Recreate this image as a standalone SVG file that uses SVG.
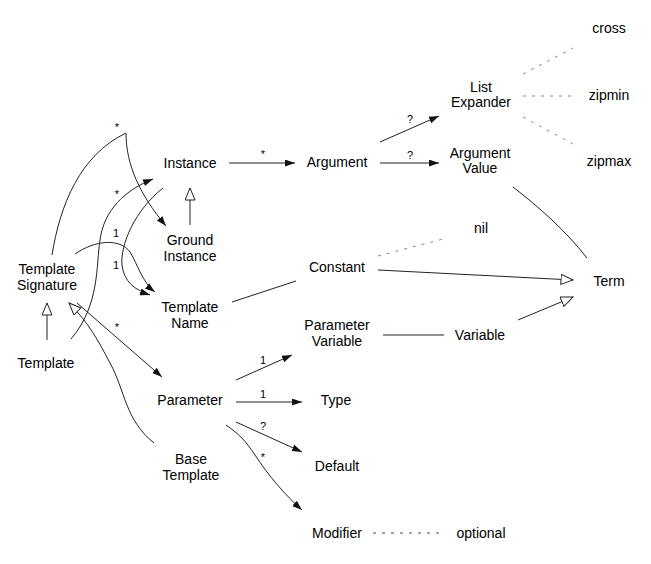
<svg xmlns="http://www.w3.org/2000/svg" width="651" height="564" viewBox="0 0 651 564">
<style>
text{font-family:"Liberation Sans",Arial,sans-serif;font-size:14px;fill:#000;text-anchor:middle}
text.l{font-size:11px}
.e{fill:none;stroke:#222;stroke-width:1}
.a{marker-end:url(#arr)}
.h{marker-end:url(#tri)}
.d{fill:none;stroke:#888;stroke-width:1;stroke-dasharray:3 6}
.dk{fill:none;stroke:#444;stroke-width:1;stroke-dasharray:3 6}
</style>
<defs>
<marker id="arr" markerUnits="userSpaceOnUse" markerWidth="12" markerHeight="8" refX="10" refY="3.5" orient="auto"><path d="M0,0 L10,3.5 L0,7 z" fill="#111"/></marker>
<marker id="tri" markerUnits="userSpaceOnUse" markerWidth="14" markerHeight="12" refX="12.5" refY="5.5" orient="auto"><path d="M0.5,0.5 L12.5,5.5 L0.5,10.5 z" fill="#fff" stroke="#222"/></marker>
</defs>
<g id="connectors">
<path class="e a" d="M52,255 C60,205 80,155 126,133 C126,165 140,195 166,226"/>
<path class="e a" d="M71,339 C100,305 96,265 100,240 C104,210 125,190 153,179"/>
<path class="e a" d="M75,254 C95,240 120,238 130,252 C138,265 142,282 155,292"/>
<path class="e a" d="M163,188 C135,210 120,245 122,265 C124,282 135,290 150,295"/>
<path class="e h" d="M154,443 C125,420 125,390 110,363 C98,340 88,322 69,303"/>
<path class="e a" d="M77,303 L162,377"/>
<path class="e h" d="M47,340 L47,303"/>
<path class="e h" d="M190,225 L190,188"/>
<path class="e a" d="M229,163 L295,163"/>
<path class="e a" d="M380,142 L439,116"/>
<path class="e a" d="M380,163 L439,163"/>
<path class="d" d="M523,74 L573,48"/>
<path class="d" d="M523,96 L572,96"/>
<path class="d" d="M523,117 L573,144"/>
<path class="e" d="M513,187 C540,208 565,230 587,258"/>
<path class="d" d="M378,256 L443,239"/>
<path class="e h" d="M378,270 L573,280"/>
<path class="e" d="M232,302 L296,281"/>
<path class="e" d="M383,335 L444,335"/>
<path class="e h" d="M518,320 L573,297"/>
<path class="e a" d="M236,380 L292,355"/>
<path class="e a" d="M236,402 L302,402"/>
<path class="e a" d="M236,422 L302,452"/>
<path class="e a" d="M226,425 C240,435 245,440 255,455 C268,475 285,495 302,510"/>
<path class="dk" d="M373,533 L442,533"/>
</g>
<g id="labels">
<text class="l" x="117" y="131">*</text>
<text class="l" x="117" y="198">*</text>
<text class="l" x="116" y="237">1</text>
<text class="l" x="116" y="269">1</text>
<text class="l" x="117" y="331">*</text>
<text class="l" x="263" y="158">*</text>
<text class="l" x="410" y="123">?</text>
<text class="l" x="410" y="159">?</text>
<text class="l" x="263" y="364">1</text>
<text class="l" x="263" y="398">1</text>
<text class="l" x="263" y="430">?</text>
<text class="l" x="263" y="461">*</text>
</g>
<g id="cross"><text x="609" y="33">cross</text></g>
<g id="listexpander"><text x="481" y="92">List</text><text x="481" y="107">Expander</text></g>
<g id="zipmin"><text x="609" y="100">zipmin</text></g>
<g id="argumentvalue"><text x="480" y="158">Argument</text><text x="480" y="173">Value</text></g>
<g id="zipmax"><text x="609" y="166">zipmax</text></g>
<g id="instance"><text x="190" y="168">Instance</text></g>
<g id="argument"><text x="337" y="167">Argument</text></g>
<g id="groundinstance"><text x="190" y="245">Ground</text><text x="190" y="261">Instance</text></g>
<g id="nil"><text x="481" y="233">nil</text></g>
<g id="templatesignature"><text x="47" y="274">Template</text><text x="47" y="290">Signature</text></g>
<g id="constant"><text x="337" y="272">Constant</text></g>
<g id="term"><text x="609" y="286">Term</text></g>
<g id="templatename"><text x="190" y="312">Template</text><text x="190" y="328">Name</text></g>
<g id="parametervariable"><text x="337" y="330">Parameter</text><text x="337" y="346">Variable</text></g>
<g id="variable"><text x="480" y="340">Variable</text></g>
<g id="template"><text x="46" y="368">Template</text></g>
<g id="parameter"><text x="190" y="405">Parameter</text></g>
<g id="type"><text x="336" y="405">Type</text></g>
<g id="basetemplate"><text x="191" y="464">Base</text><text x="191" y="480">Template</text></g>
<g id="default"><text x="337" y="471">Default</text></g>
<g id="modifier"><text x="337" y="538">Modifier</text></g>
<g id="optional"><text x="481" y="538">optional</text></g>
</svg>
